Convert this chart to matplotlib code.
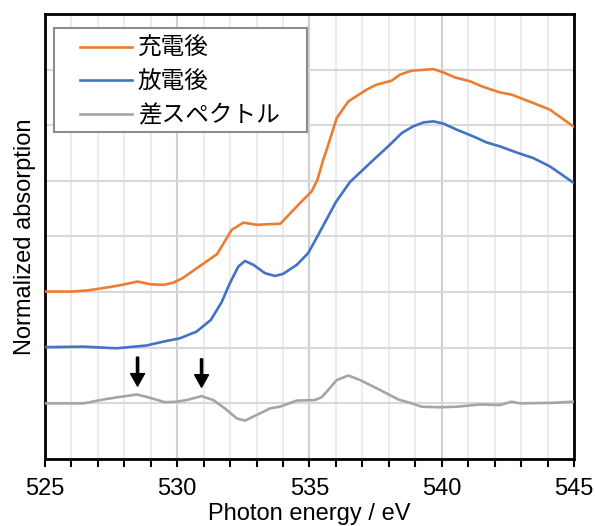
import matplotlib
matplotlib.use("Agg")
import matplotlib.pyplot as plt
from matplotlib.patches import Rectangle
from matplotlib.ticker import MultipleLocator, NullFormatter

plt.rcParams['font.family'] = ['Liberation Sans', 'Noto Sans CJK JP']

# charged (充電後)
e_charge = [525.0, 526.0, 526.6, 527.3, 527.8, 528.5, 529.0, 529.5, 529.85, 530.2,
            530.86, 531.5, 532.06, 532.5, 533.0, 533.9, 534.4, 534.64, 535.08, 535.3,
            535.52, 535.65, 536.03, 536.47, 537.16, 537.54, 538.1, 538.42, 538.86, 539.68,
            540.06, 540.5, 541.07, 541.51, 542.2, 542.64, 543.46, 544.09, 545.0]
a_charge = [3.01, 3.01, 3.03, 3.08, 3.12, 3.19, 3.14, 3.13, 3.17, 3.25,
            3.47, 3.68, 4.12, 4.25, 4.21, 4.23, 4.48, 4.60, 4.81, 5.02,
            5.38, 5.56, 6.13, 6.43, 6.64, 6.73, 6.80, 6.91, 6.98, 7.01,
            6.95, 6.86, 6.79, 6.70, 6.59, 6.55, 6.40, 6.28, 5.97]

# discharged (放電後)
e_discharge = [525.0, 526.45, 527.7, 528.84, 529.47, 530.1, 530.73, 531.27, 531.68, 531.99,
               532.31, 532.56, 532.88, 533.32, 533.7, 534.01, 534.52, 534.95, 535.4, 536.0,
               536.53, 537.29, 538.04, 538.49, 538.92, 539.3, 539.68, 540.06, 540.57, 541.19,
               541.7, 542.2, 542.83, 543.46, 544.09, 545.0]
a_discharge = [2.01, 2.02, 1.99, 2.04, 2.11, 2.17, 2.29, 2.50, 2.82, 3.16,
               3.46, 3.56, 3.49, 3.34, 3.29, 3.33, 3.49, 3.70, 4.09, 4.62,
               4.98, 5.32, 5.65, 5.86, 5.98, 6.05, 6.07, 6.03, 5.92, 5.80,
               5.69, 5.62, 5.51, 5.41, 5.26, 4.96]

# difference spectrum (差スペクトル)
e_diff = [525.0, 526.45, 527.33, 528.47, 528.97, 529.54, 529.98, 530.36, 530.92, 531.36,
          531.8, 532.25, 532.56, 533.0, 533.51, 533.88, 534.52, 535.2, 535.46, 535.65,
          536.03, 536.47, 536.91, 537.67, 538.36, 538.8, 539.24, 539.93, 540.57, 541.45,
          542.2, 542.64, 542.96, 544.22, 545.0]
a_diff = [1.00, 1.00, 1.08, 1.16, 1.10, 1.02, 1.03, 1.06, 1.13, 1.06,
          0.91, 0.73, 0.69, 0.79, 0.91, 0.94, 1.05, 1.06, 1.11, 1.21,
          1.42, 1.50, 1.42, 1.24, 1.07, 1.01, 0.94, 0.93, 0.94, 0.98,
          0.97, 1.03, 1.00, 1.01, 1.03]

# arrow positions (energy, tip, tail)
arrows = [(528.5, 1.31, 1.83), (530.92, 1.29, 1.80)]

fig = plt.figure(figsize=(5.95, 5.26), dpi=100)
ax = fig.add_axes([0.0756, 0.1274, 0.8891, 0.846])

ax.plot(e_charge, a_charge, color='#ED7D31', lw=1.9, label='充電後', zorder=3)
ax.plot(e_discharge, a_discharge, color='#4472C4', lw=1.9, label='放電後', zorder=3)
ax.plot(e_diff, a_diff, color='#A5A5A5', lw=1.9, label='差スペクトル', zorder=3)

for x, tip, tail in arrows:
    ax.annotate('', xy=(x, tip), xytext=(x, tail),
                arrowprops=dict(facecolor='black', edgecolor='black', width=1.6,
                                headwidth=10, headlength=9, shrink=0))

ax.set_xlim(525, 545)
ax.set_ylim(0, 8)
ax.xaxis.set_major_locator(MultipleLocator(5))
ax.xaxis.set_minor_locator(MultipleLocator(1))
ax.yaxis.set_major_locator(MultipleLocator(1))
ax.yaxis.set_major_formatter(NullFormatter())
ax.tick_params(axis='y', length=0)
ax.tick_params(axis='x', which='both', direction='out', length=5.5, width=1.5,
               labelsize=17, pad=8.5)
ax.grid(which='major', axis='x', color='#D0D0D0', lw=1.5)
ax.grid(which='minor', axis='x', color='#EBEBEB', lw=1.5)
ax.grid(which='major', axis='y', color='#D9D9D9', lw=1.5)
ax.set_axisbelow(True)
for s in ax.spines.values():
    s.set_linewidth(2)
    s.set_color('black')

ax.set_xlabel('Photon energy / eV', fontsize=17, labelpad=1.5)
ax.set_ylabel('Normalized absorption', fontsize=17, labelpad=3)

# legend box drawn separately so the padding can match
frame = Rectangle((0.017, 0.7348), 0.4783, 0.2337, transform=ax.transAxes,
                  facecolor='white', edgecolor='#8C8C8C', lw=1.5, zorder=4)
ax.add_patch(frame)
leg = ax.legend(loc='upper left', bbox_to_anchor=(0.066, 0.946), borderaxespad=0,
                fontsize=17, handlelength=2.2, handletextpad=0.25, labelspacing=0.48,
                borderpad=0, frameon=False)
leg.set_zorder(5)

fig.savefig('out.png', dpi=100)
